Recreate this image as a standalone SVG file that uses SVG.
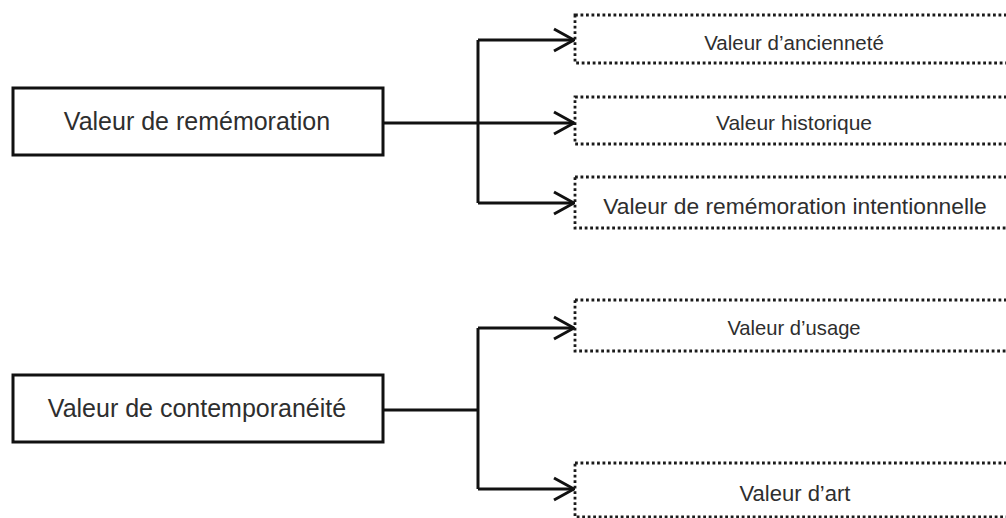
<svg xmlns="http://www.w3.org/2000/svg" width="1006" height="518" viewBox="0 0 1006 518">
  <defs>
    <style>
      .main { fill: #ffffff; stroke: #111111; stroke-width: 3; }
      .sub { fill: #ffffff; stroke: #1a1a1a; stroke-width: 2.8; stroke-dasharray: 2.8 2.7; }
      .lbl { font-family: "Liberation Sans", Arial, sans-serif; fill: #2e2e2e; text-anchor: middle; }
      .conn { fill: none; stroke: #111111; stroke-width: 3; }
    </style>
    <marker id="arrow" viewBox="0 0 24 26" refX="22" refY="13" markerWidth="24" markerHeight="26" markerUnits="userSpaceOnUse" orient="auto">
      <path d="M2 2 L22 13 L2 24" fill="none" stroke="#111111" stroke-width="3"/>
    </marker>
  </defs>
  <rect width="1006" height="518" fill="#ffffff"/>

  <g id="connectors">
    <path class="conn" d="M383 123 H478"/>
    <path class="conn" d="M478 40 V203"/>
    <path class="conn" d="M478 40 H574" marker-end="url(#arrow)"/>
    <path class="conn" d="M478 123 H574" marker-end="url(#arrow)"/>
    <path class="conn" d="M478 203 H574" marker-end="url(#arrow)"/>
    <path class="conn" d="M383 410 H478"/>
    <path class="conn" d="M478 328 V489"/>
    <path class="conn" d="M478 328 H574" marker-end="url(#arrow)"/>
    <path class="conn" d="M478 489 H574" marker-end="url(#arrow)"/>
  </g>

  <g id="node-rememoration">
    <rect class="main" x="13" y="88" width="370" height="67"/>
    <text class="lbl" x="197" y="130" font-size="25">Valeur de remémoration</text>
  </g>
  <g id="node-anciennete">
    <rect class="sub" x="575" y="15" width="440" height="48"/>
    <text class="lbl" x="794" y="50" font-size="20.5">Valeur d’ancienneté</text>
  </g>
  <g id="node-historique">
    <rect class="sub" x="575" y="97" width="440" height="47"/>
    <text class="lbl" x="794" y="130" font-size="21">Valeur historique</text>
  </g>
  <g id="node-intentionnelle">
    <rect class="sub" x="575" y="177" width="440" height="51"/>
    <text class="lbl" x="795" y="214" font-size="22.8">Valeur de remémoration intentionnelle</text>
  </g>

  <g id="node-contemporaneite">
    <rect class="main" x="13" y="375" width="370" height="67"/>
    <text class="lbl" x="197" y="417" font-size="25">Valeur de contemporanéité</text>
  </g>
  <g id="node-usage">
    <rect class="sub" x="575" y="300" width="440" height="51"/>
    <text class="lbl" x="794" y="335" font-size="20.2">Valeur d’usage</text>
  </g>
  <g id="node-art">
    <rect class="sub" x="575" y="463" width="440" height="54"/>
    <text class="lbl" x="795" y="501" font-size="22">Valeur d’art</text>
  </g>
</svg>
